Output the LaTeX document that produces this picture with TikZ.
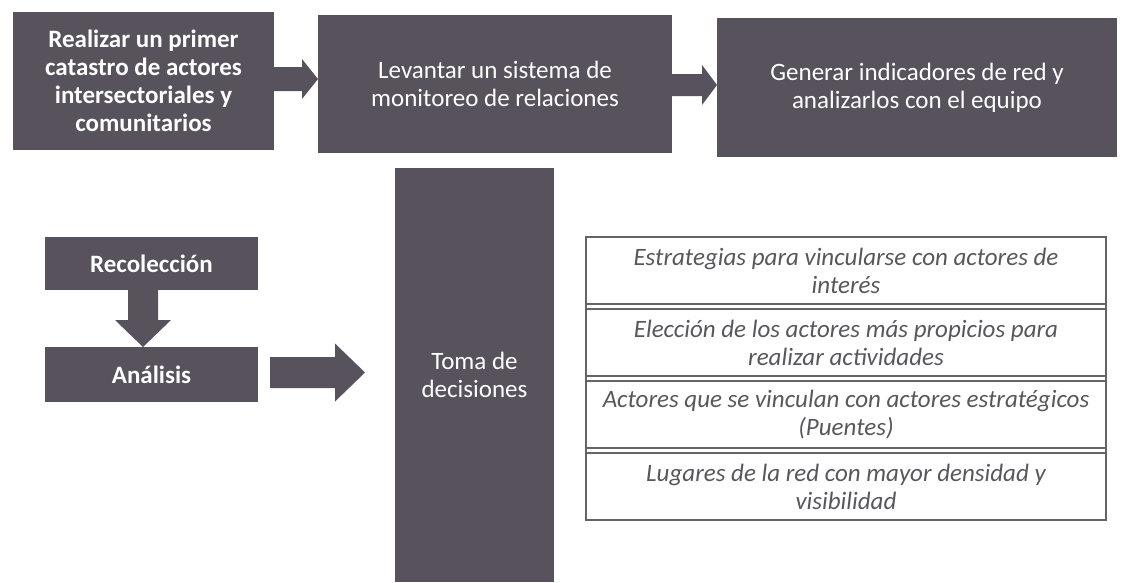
\documentclass[tikz,border=0pt]{standalone}
\usepackage{fontspec}
\setmainfont{Carlito}
\usetikzlibrary{calc}
\definecolor{boxc}{RGB}{87,82,92}
\definecolor{tabtxt}{RGB}{88,88,92}
\definecolor{tabline}{RGB}{100,100,104}
% horizontal block arrow: start, end, shaft half, head half, head length
\newcommand\harrow[5]{\fill[blk] let \p1=(#1), \p2=(#2) in
  (\x1,{\y1+#3}) -- ({\x2-#5},{\y1+#3}) -- ({\x2-#5},{\y1+#4}) -- (\x2,\y1) --
  ({\x2-#5},{\y1-#4}) -- ({\x2-#5},{\y1-#3}) -- (\x1,{\y1-#3}) -- cycle;}
% downward block arrow
\newcommand\varrow[5]{\fill[blk] let \p1=(#1), \p2=(#2) in
  ({\x1-#3},\y1) -- ({\x1-#3},{\y2+#5}) -- ({\x1-#4},{\y2+#5}) -- (\x1,\y2) --
  ({\x1+#4},{\y2+#5}) -- ({\x1+#3},{\y2+#5}) -- ({\x1+#3},\y1) -- cycle;}
\begin{document}
\begin{tikzpicture}[x=1pt,y=-1pt,
  box/.style={rectangle, fill=boxc, text=white, anchor=north west, outer sep=0pt,
    inner sep=4pt, align=center, font=\fontsize{25}{28}\selectfont},
  boldbox/.style={box, font=\fontsize{25}{28}\selectfont\bfseries},
  row/.style={rectangle, draw=tabline, line width=1.1pt, anchor=north west, outer sep=0pt,
    inner sep=2pt, minimum width=520pt, minimum height=67pt, align=center, text=tabtxt,
    font=\fontsize{25}{28}\selectfont\itshape},
  blk/.style={fill=boxc}]
\useasboundingbox (0,0) rectangle (1122,582);
\fill[white] (0,0) rectangle (1122,582);

% top row
\node[boldbox, minimum width=261pt, minimum height=138pt] (b1) at (13,12)
  {Realizar un primer\\catastro de actores\\intersectoriales y\\comunitarios};
\node[box, minimum width=354pt, minimum height=138pt] (b2) at (318,15)
  {Levantar un sistema de\\monitoreo de relaciones};
\node[box, minimum width=400pt, minimum height=139pt] (b3) at (717,18)
  {Generar indicadores de red y\\analizarlos con el equipo};

% lower left
\node[boldbox, minimum width=213pt, minimum height=53pt] (rec) at (45,237) {Recolección};
\node[boldbox, minimum width=213pt, minimum height=55pt] (an) at (45,347) {Análisis};
\node[box, minimum width=159pt, minimum height=414pt] (toma) at (395,168)
  {Toma de\\decisiones};

% table
\node[row] (t1) at (586,237) {Estrategias para vincularse con actores de\\interés};
\node[row] (t2) at (586,309) {Elección de los actores más propicios para\\realizar actividades};
\node[row] (t3) at (586,381) {Actores que se vinculan con actores estratégicos\\(Puentes)};
\node[row] (t4) at (586,453) {Lugares de la red con mayor densidad y\\visibilidad};
\draw[draw=tabline, line width=1.1pt] (t1.north west) -- (t4.south west);
\draw[draw=tabline, line width=1.1pt] (t1.north east) -- (t4.south east);

% block arrows
\harrow{$(b1.east)+(0pt,2pt)$}{b2.west}{12pt}{20pt}{16pt}
\harrow{$(b2.east)+(0pt,-1pt)$}{b3.west}{11pt}{20pt}{15pt}
\varrow{$(rec.south)+(-8.5pt,0pt)$}{$(an.north)+(-8.5pt,0pt)$}{15pt}{28pt}{27pt}
\harrow{$(an.east)+(12pt,2pt)$}{$(toma.west)+(-30pt,0pt)$}{15.5pt}{29pt}{30pt}
\end{tikzpicture}
\end{document}
